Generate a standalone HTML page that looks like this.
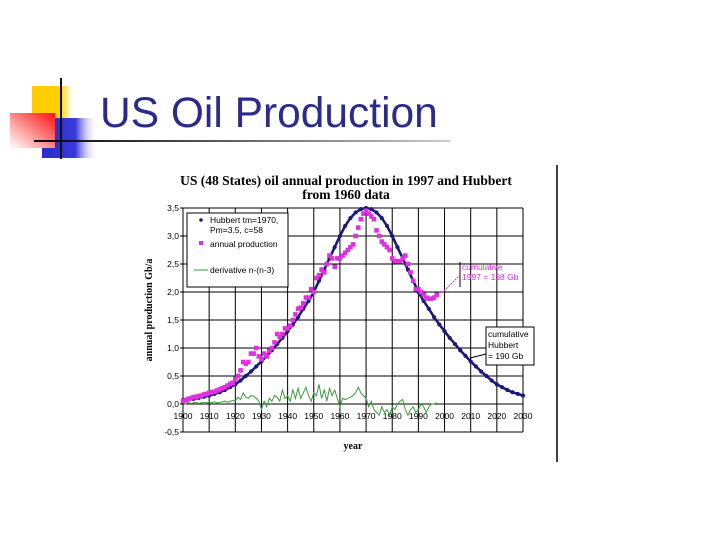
<!DOCTYPE html>
<html><head><meta charset="utf-8"><style>
html,body{margin:0;padding:0;background:#fff;width:720px;height:540px;overflow:hidden}
svg{display:block}
</style></head><body>
<svg width="720" height="540" viewBox="0 0 720 540">
<defs>
<linearGradient id="gBlue" x1="0" x2="1"><stop offset="0" stop-color="#2a2ac8"/><stop offset="0.6" stop-color="#3a3ad8"/><stop offset="1" stop-color="#fff" stop-opacity="0"/></linearGradient>
<linearGradient id="gRed" x1="1" x2="0" y1="0" y2="1"><stop offset="0" stop-color="#ff1010"/><stop offset="1" stop-color="#fff"/></linearGradient>
<linearGradient id="gYel" x1="0" x2="1"><stop offset="0" stop-color="#ffcc00"/><stop offset="0.7" stop-color="#ffd000"/><stop offset="1" stop-color="#fff"/></linearGradient>
<linearGradient id="gLine" x1="0" x2="1"><stop offset="0" stop-color="#000"/><stop offset="1" stop-color="#ccc"/></linearGradient>
</defs>
<g>
<rect x="32" y="86" width="40" height="34" fill="url(#gYel)"/>
<rect x="42" y="118" width="56" height="40" fill="url(#gBlue)"/>
<rect x="10" y="113" width="45" height="35" fill="url(#gRed)"/>
<line x1="61" y1="78" x2="61" y2="159" stroke="#111" stroke-width="2"/>
<rect x="34" y="140" width="416" height="2" fill="url(#gLine)"/>
</g>
<text x="100" y="127" font-family="Liberation Sans, sans-serif" font-size="42.5" fill="#2b2b8c">US Oil Production</text>
<line x1="557" y1="165" x2="557" y2="462" stroke="#000" stroke-width="1.5"/>
<g font-family="Liberation Serif, serif" font-weight="bold" font-size="13.5" text-anchor="middle">
<text x="346" y="185">US (48 States) oil annual production in 1997 and Hubbert</text>
<text x="346" y="199">from 1960 data</text>
</g>
<g id="grid"></g>
<g id="axes"></g>
<g id="series"></g>
<text x="353" y="449" font-family="Liberation Serif, serif" font-weight="bold" font-size="10" text-anchor="middle">year</text>
<text transform="translate(152,310) rotate(-90)" font-family="Liberation Serif, serif" font-weight="bold" font-size="10" text-anchor="middle">annual production Gb/a</text>
<g>
<rect x="187" y="213" width="101" height="74" fill="#fff" stroke="#000" stroke-width="1"/>
<g font-family="Liberation Sans, sans-serif" font-size="8.5">
<circle cx="201" cy="220" r="1.8" fill="#1a1a7a"/><text x="210" y="223">Hubbert tm=1970,</text><text x="210" y="233">Pm=3.5, c=58</text>
<rect x="199" y="241" width="4" height="4" fill="#e030e0"/><text x="210" y="247">annual production</text>
<line x1="194" y1="270" x2="208" y2="270" stroke="#3a9a3a"/><text x="210" y="273">derivative n-(n-3)</text>
</g>
</g>
<g>
<line x1="460" y1="262" x2="460" y2="287" stroke="#000"/>
<line x1="442" y1="293" x2="460" y2="275" stroke="#d030d0" stroke-dasharray="2,1"/>
<text x="462" y="270" font-family="Liberation Sans, sans-serif" font-size="8.5" fill="#d030d0">cumulative</text>
<text x="462" y="280" font-family="Liberation Sans, sans-serif" font-size="8.5" fill="#d030d0">1997 = 168 Gb</text>
</g>
<g>
<rect x="486" y="327" width="48" height="38" fill="#fff" stroke="#000"/>
<line x1="470" y1="358" x2="486" y2="354" stroke="#000"/>
<g font-family="Liberation Sans, sans-serif" font-size="8.5"><text x="488" y="337">cumulative</text><text x="488" y="348">Hubbert</text><text x="488" y="359">= 190 Gb</text></g>
</g>
</svg>
<script>
const xTicks=[1900,1910,1920,1930,1940,1950,1960,1970,1980,1990,2000,2010,2020,2030];
const yTicks=[-0.5,0,0.5,1,1.5,2,2.5,3,3.5];
const yTickLabels=["-0,5","0,0","0,5","1,0","1,5","2,0","2,5","3,0","3,5"];
const hubbertYears=[];for(let y=1900;y<=2030;y+=2)hubbertYears.push(y);
const hubbertValues=[.07,.08,.09,.11,.13,.15,.18,.21,.25,.3,.35,.42,.5,.58,.67,.76,.86,.96,1.07,1.18,1.3,1.42,1.55,1.7,1.84,2.0,2.2,2.4,2.6,2.8,3.0,3.18,3.32,3.42,3.48,3.5,3.48,3.42,3.32,3.18,3.0,2.8,2.6,2.4,2.2,2.0,1.84,1.7,1.55,1.42,1.3,1.18,1.07,.96,.86,.76,.67,.58,.5,.42,.35,.3,.25,.21,.18,.15];
const prodStart=1900;
const prodValues=[.05,.07,.09,.1,.12,.13,.14,.15,.17,.18,.2,.21,.22,.24,.26,.28,.3,.33,.36,.38,.45,.5,.6,.75,.72,.75,.9,.9,1.0,.85,.8,.9,.85,.95,1.0,1.1,1.25,1.2,1.25,1.35,1.35,1.4,1.5,1.6,1.7,1.72,1.8,1.9,1.9,2.05,2.0,2.25,2.3,2.4,2.35,2.5,2.65,2.6,2.45,2.6,2.6,2.65,2.7,2.75,2.8,2.85,3.0,3.15,3.3,3.4,3.45,3.4,3.35,3.3,3.1,3.0,2.9,2.85,2.8,2.75,2.6,2.55,2.55,2.55,2.6,2.65,2.5,2.35,2.2,2.05,2.05,2.0,1.95,1.9,1.88,1.88,1.9,1.95];
const derivValues=[.02,0,.03,.01,.02,.03,.01,.02,.03,.02,.03,.02,.04,.02,.03,.04,.05,.03,.05,.06,.06,.12,.08,.2,.12,.1,.15,.14,.1,.05,-.1,.05,-.05,.1,.05,.15,.12,.05,.25,.1,.15,.05,.25,.1,.28,.1,.2,.3,.15,.05,.2,.15,.35,.1,.25,.05,.28,.15,.25,.1,-.05,.1,.08,.1,.12,.15,.2,.3,.2,.15,.1,-.05,.05,-.1,-.15,-.2,-.05,-.15,-.1,-.2,-.05,-.1,0,.05,.08,-.1,-.2,-.1,-.05,-.15,-.1,0,-.05,-.15,-.05,0,0,.02];
const X0=183,X1=523,Y0=432,Y1=208;
const sx=v=>X0+(v-1900)/(2030-1900)*(X1-X0);
const sy=v=>Y0-(v+0.5)/4*(Y0-Y1);
const NS="http://www.w3.org/2000/svg";
function mk(t,a,p){const e=document.createElementNS(NS,t);for(const k in a)e.setAttribute(k,a[k]);p.appendChild(e);return e;}
const grid=document.getElementById('grid'),axes=document.getElementById('axes'),ser=document.getElementById('series');
xTicks.forEach(t=>{const l=mk('line',{x1:sx(t),x2:sx(t),y1:Y1,y2:Y0,stroke:'#000','stroke-width':1},grid);


const tx=mk('text',{x:sx(t),y:sy(0)+15,'font-family':'Liberation Sans, sans-serif','font-size':8.5,'text-anchor':'middle'},axes);tx.textContent=t;

});
yTicks.forEach((t,i)=>{const l=mk('line',{x1:X0-3,x2:X1,y1:sy(t),y2:sy(t),stroke:'#000','stroke-width':1},grid);


const tx=mk('text',{x:X0-4,y:sy(t)+3,'font-family':'Liberation Sans, sans-serif','font-size':8.5,'text-anchor':'end'},axes);tx.textContent=yTickLabels[i];

});
const d=derivValues.map((v,i)=>sx(prodStart+i)+','+sy(v)).join(' ');
const dl=mk('polyline',{points:d,fill:'none',stroke:'#3a9a3a','stroke-width':1},ser);


const hp=mk('polyline',{points:hubbertYears.map((y,i)=>sx(y)+','+sy(hubbertValues[i])).join(' '),fill:'none',stroke:'#1a1a7a','stroke-width':2.6},ser);


hubbertYears.forEach((y,i)=>{const c=mk('circle',{cx:sx(y),cy:sy(hubbertValues[i]),r:2.1,fill:'#1a1a7a'},ser);

});
prodValues.forEach((v,i)=>{const r=mk('rect',{x:sx(prodStart+i)-2.3,y:sy(v)-2.3,width:4.6,height:4.6,fill:'#e030e0'},ser);

});
</script>
</body></html>
